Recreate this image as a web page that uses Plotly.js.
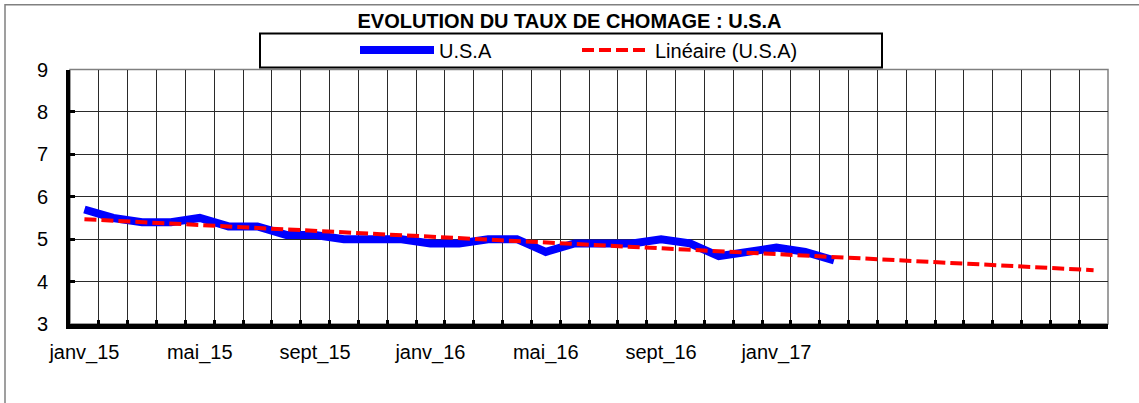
<!DOCTYPE html>
<html>
<head>
<meta charset="utf-8">
<script src="https://cdn.plot.ly/plotly-3.0.1.min.js"></script>
<style>html,body{margin:0;padding:0;background:#fff;}#chart{width:1139px;height:403px;}</style>
</head>
<body>
<div id="chart"></div>
<script>
// Months (categories) on the x axis: janv_15 .. déc_17
var months = ["janv_15","févr_15","mars_15","avr_15","mai_15","juin_15","juil_15","août_15","sept_15","oct_15","nov_15","déc_15",
              "janv_16","févr_16","mars_16","avr_16","mai_16","juin_16","juil_16","août_16","sept_16","oct_16","nov_16","déc_16",
              "janv_17","févr_17","mars_17","avr_17","mai_17","juin_17","juil_17","août_17","sept_17","oct_17","nov_17","déc_17"];
// Unemployment rate, U.S.A (janv_15 .. mars_17)
var usaMonths = months.slice(0, 27);
var usaValues = [5.7,5.5,5.4,5.4,5.5,5.3,5.3,5.1,5.1,5.0,5.0,5.0,
                 4.9,4.9,5.0,5.0,4.7,4.9,4.9,4.9,5.0,4.9,4.6,4.7,
                 4.8,4.7,4.5];
// Linear trend (Linéaire (U.S.A)) read at its two ends
var trendMonths = ["janv_15","déc_17"];
var trendValues = [5.47, 4.27];
// Labelled months (every 4th)
var labelMonths = ["janv_15","mai_15","sept_15","janv_16","mai_16","sept_16","janv_17"];
var yTicks = [3,4,5,6,7,8,9];

var FONT = "Arial, 'Liberation Sans', sans-serif";
var tickText = months.map(function(m){ return labelMonths.indexOf(m) >= 0 ? m : ""; });

var traces = [
  {x: usaMonths, y: usaValues, name: "U.S.A", type: "scatter", mode: "lines",
   line: {color: "#0000FF", width: 8}, legend: "legend"},
  {x: trendMonths, y: trendValues, name: "Linéaire (U.S.A)", type: "scatter", mode: "lines",
   line: {color: "#FF0000", width: 4, dash: "12px,5px"}, legend: "legend2"}
];

function px2x(p){ return (p - 70) / 1038; }
function py2y(p){ return (324 - p) / 255; }

var legendBase = {orientation: "h", xref: "container", yref: "container", xanchor: "left",
                  y: 1 - 50/403, yanchor: "middle", itemwidth: 74,
                  bgcolor: "rgba(0,0,0,0)", borderwidth: 0,
                  font: {family: FONT, size: 20, color: "#000"}};

var layout = {
  width: 1139, height: 403,
  margin: {l: 70, r: 31, t: 69, b: 79},
  paper_bgcolor: "#ffffff", plot_bgcolor: "#ffffff",
  showlegend: true,
  title: {text: "<b>EVOLUTION DU TAUX DE CHOMAGE : U.S.A</b>", x: 0.5, xref: "container", xanchor: "center",
          y: 1 - 21/403, yref: "container", yanchor: "middle",
          font: {family: FONT, size: 20, color: "#000"}},
  legend: Object.assign({}, legendBase, {x: 355/1139}),
  legend2: Object.assign({}, legendBase, {x: 577/1139, itemwidth: 68}),
  xaxis: {type: "category", categoryorder: "array", categoryarray: months,
          range: [-0.5, 35.5], tickson: "boundaries", tickmode: "array", tickvals: months, ticktext: tickText,
          tickangle: 0,
          ticks: "inside", ticklen: 4, tickwidth: 3, tickcolor: "#000",
          showline: true, linecolor: "#000", linewidth: 5,
          showgrid: true, gridcolor: "#2a2a2a", gridwidth: 1,
          tickfont: {family: FONT, size: 20, color: "#000"}, ticklabelstandoff: 6,
          zeroline: false, fixedrange: true},
  yaxis: {range: [3, 9], tickmode: "array", tickvals: yTicks,
          ticks: "inside", ticklen: 5, tickwidth: 3, tickcolor: "#000",
          showline: true, linecolor: "#000", linewidth: 4,
          showgrid: true, gridcolor: "#2a2a2a", gridwidth: 1,
          tickfont: {family: FONT, size: 20, color: "#000"}, ticklabelstandoff: 14,
          zeroline: false, fixedrange: true},
  shapes: [
    {type: "rect", xref: "paper", yref: "paper", x0: 0, x1: 1, y0: 0, y1: 1,
     line: {color: "#808080", width: 1.5}, layer: "below"},
    {type: "rect", xref: "paper", yref: "paper", x0: px2x(5), x1: px2x(1160), y0: py2y(420), y1: py2y(4),
     line: {color: "#808080", width: 1.5}},
    {type: "rect", xref: "paper", yref: "paper", x0: px2x(260), x1: px2x(882), y0: py2y(67), y1: py2y(33),
     line: {color: "#000", width: 2}, fillcolor: "#fff", layer: "above"}
  ]
};

Plotly.newPlot("chart", traces, layout, {displayModeBar: false, staticPlot: true});
</script>
</body>
</html>
